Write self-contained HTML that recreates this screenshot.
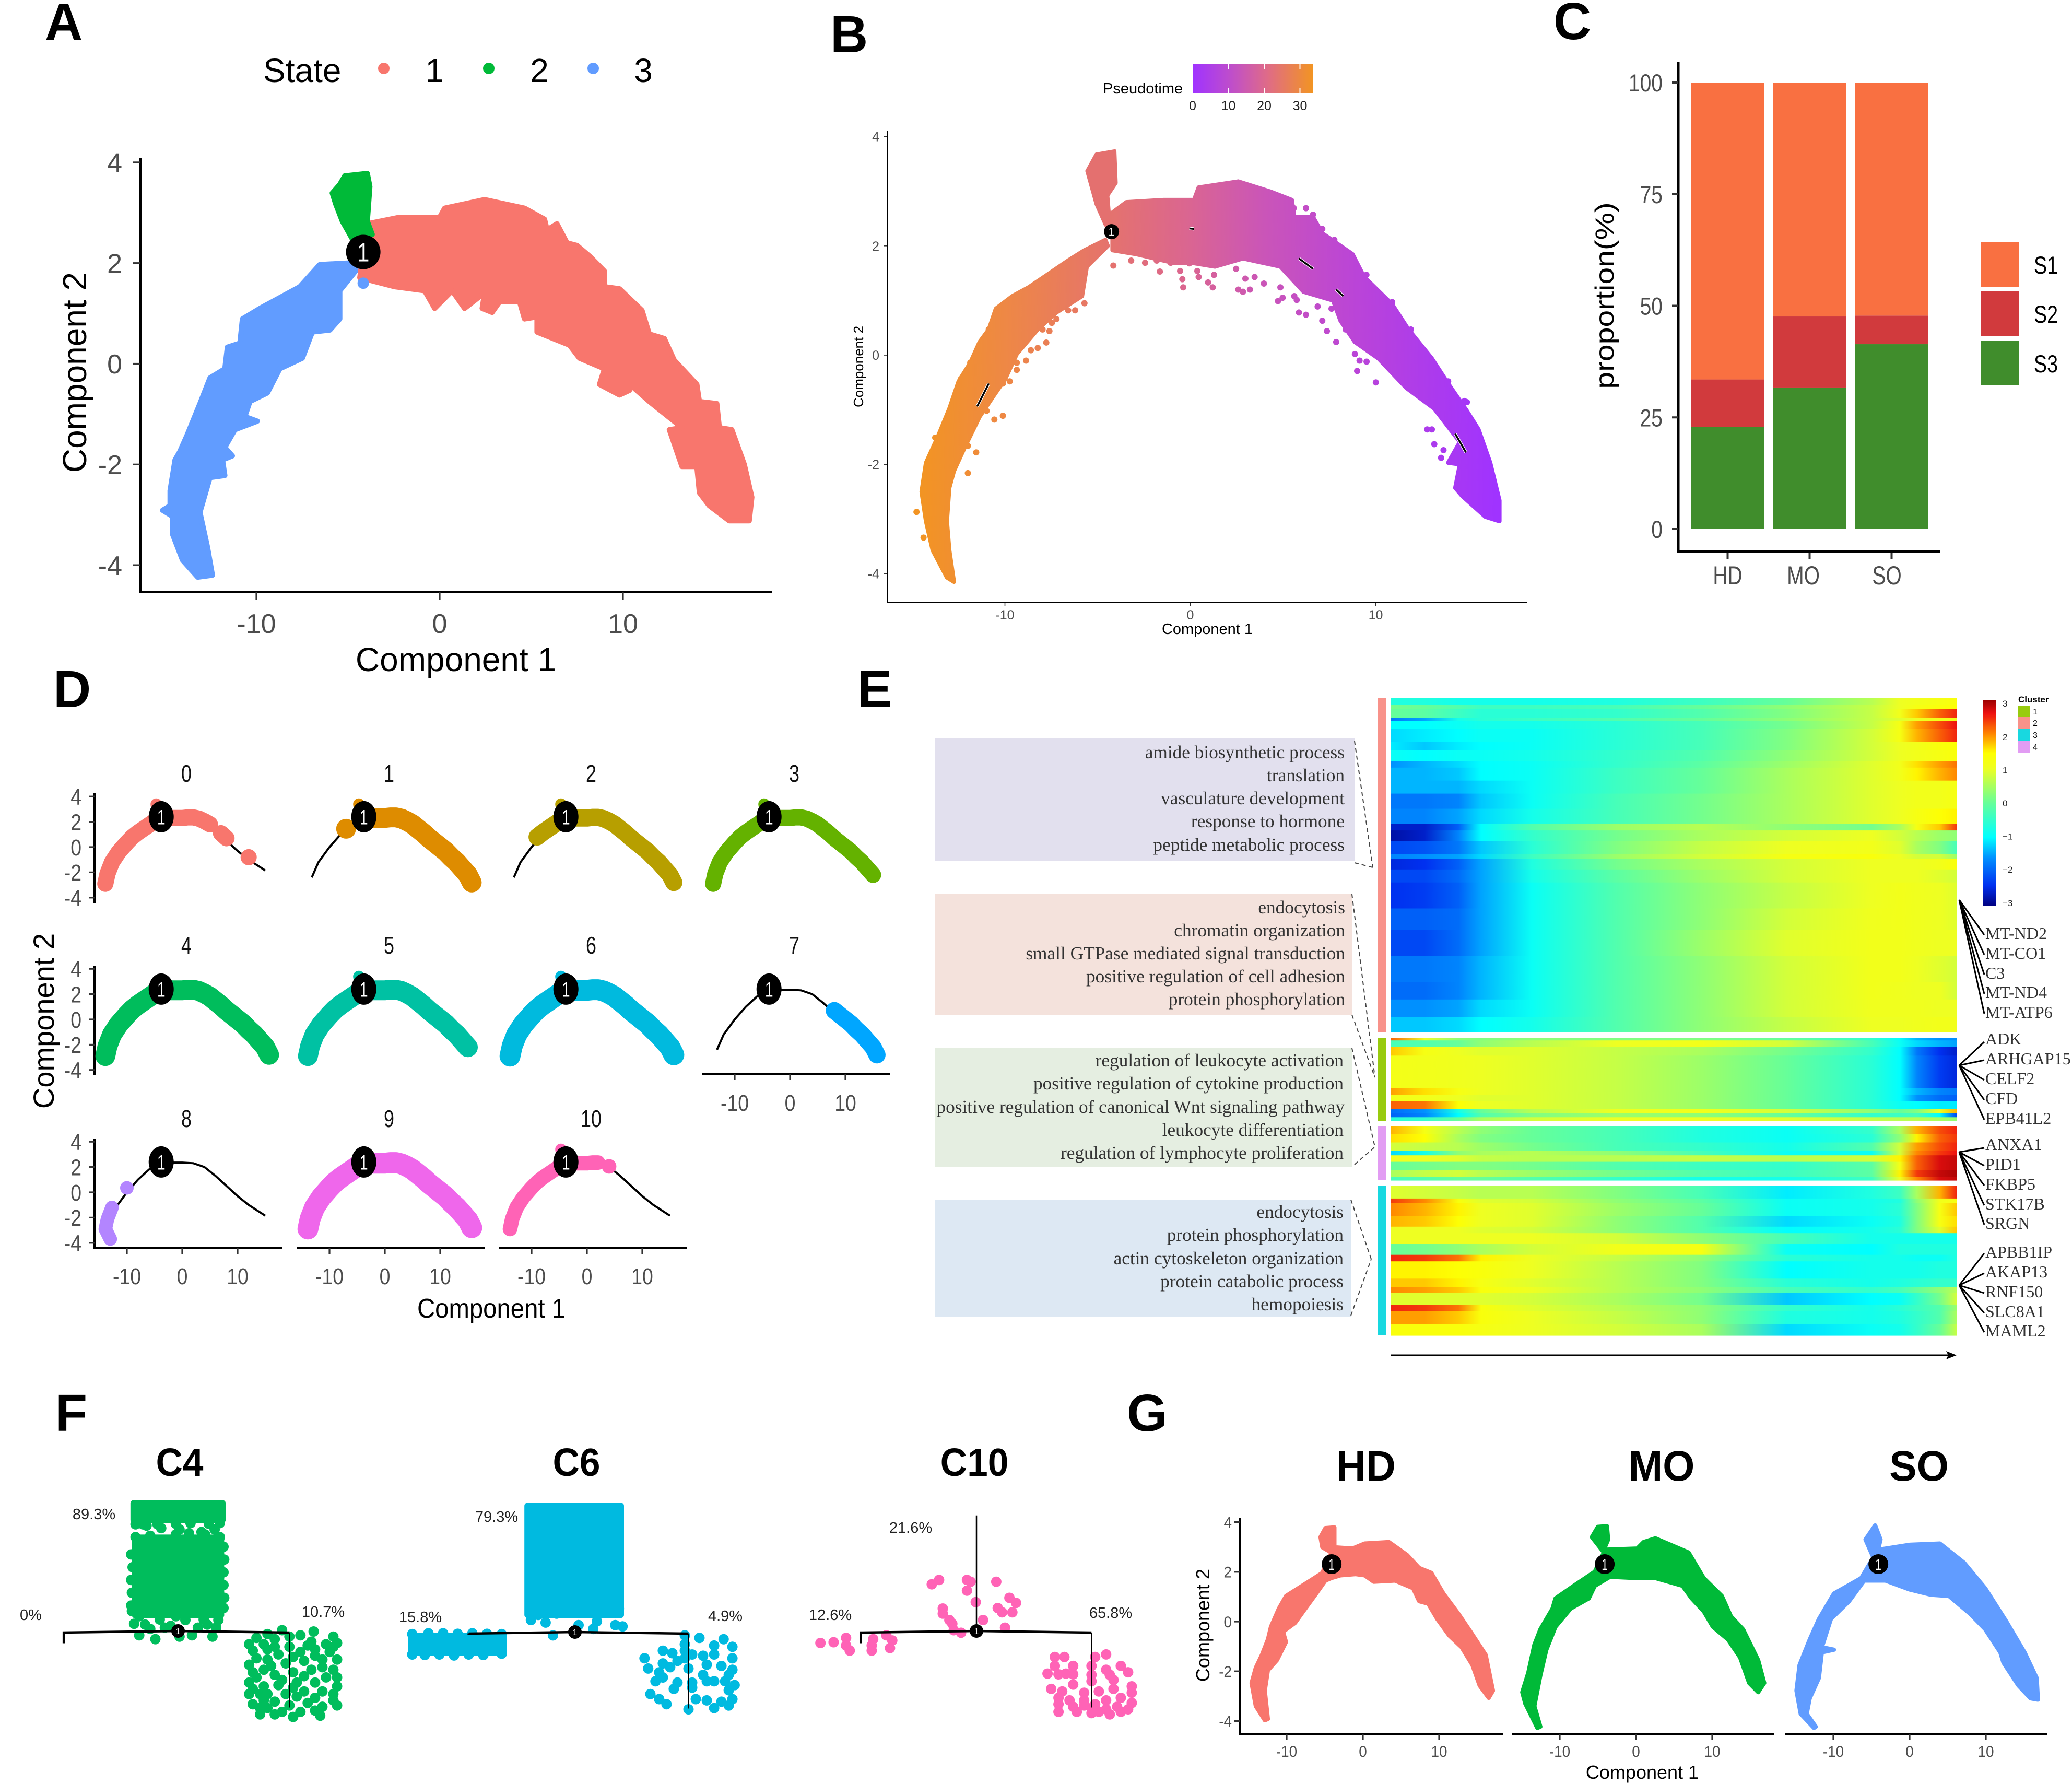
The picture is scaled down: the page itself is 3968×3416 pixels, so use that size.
<!DOCTYPE html>
<html lang="en">
<head>
<meta charset="utf-8">
<title>Trajectory analysis figure</title>
<style>
html,body{margin:0;padding:0;background:#fff;width:3968px;height:3416px;overflow:hidden}
svg{display:block}
text{font-family:"Liberation Sans",sans-serif}
.serif{font-family:"Liberation Serif",serif;fill:#333}
.go{font-size:35.3px;text-anchor:end}
.gene{font-size:32px}
.tag{font-weight:bold;font-size:100px;fill:#000}
.fpct{font-size:29px;text-anchor:middle;fill:#222}
</style>
</head>
<body>
<svg id="fig" xmlns="http://www.w3.org/2000/svg" width="3968" height="3416" viewBox="0 0 3968 3416">
<defs id="defs"></defs>
<rect x="0" y="0" width="3968" height="3416" fill="#fff"/>

<text class="tag" x="86" y="76">A</text>
<text class="tag" x="1590" y="100">B</text>
<text class="tag" x="2975" y="75">C</text>
<text class="tag" x="102" y="1354">D</text>
<text class="tag" x="1642" y="1354">E</text>
<text class="tag" x="106" y="2740">F</text>
<text class="tag" x="2158" y="2740">G</text>

<g id="panelA">
  <text x="504" y="157" font-size="64">State</text>
  <circle cx="735" cy="131" r="11" fill="#F8766D"/>
  <text x="832" y="157" font-size="64" text-anchor="middle">1</text>
  <circle cx="936" cy="131" r="11" fill="#00BA38"/>
  <text x="1033" y="157" font-size="64" text-anchor="middle">2</text>
  <circle cx="1136" cy="131" r="11" fill="#619CFF"/>
  <text x="1232" y="157" font-size="64" text-anchor="middle">3</text>
  <text x="873" y="1285" font-size="64" text-anchor="middle">Component 1</text>
  <text transform="translate(165,713) rotate(-90)" font-size="64" text-anchor="middle">Component 2</text>
</g>

<g id="panelB">
  <text x="2112" y="179" font-size="29">Pseudotime</text>
  <text x="2312" y="1214" font-size="29" text-anchor="middle">Component 1</text>
  <text transform="translate(1653,702) rotate(-90)" font-size="26" text-anchor="middle">Component 2</text>
</g>

<g id="panelC">
  <text transform="translate(3090,566) rotate(-90) scale(1,.85)" font-size="59" text-anchor="middle">proportion(%)</text>
  <rect x="3794" y="464" width="72" height="85" fill="#F97041"/>
  <rect x="3794" y="558" width="72" height="85" fill="#D13A3D"/>
  <rect x="3794" y="652" width="72" height="85" fill="#408D2C"/>
  <text transform="translate(3895,524) scale(.8,1)" font-size="47">S1</text>
  <text transform="translate(3895,618) scale(.8,1)" font-size="47">S2</text>
  <text transform="translate(3895,713) scale(.8,1)" font-size="47">S3</text>
</g>

<g id="panelD">
  <text transform="translate(103,1955) rotate(-90)" font-size="56" text-anchor="middle">Component 2</text>
  <text transform="translate(941,2523) scale(.91,1)" font-size="52" text-anchor="middle">Component 1</text>
</g>

<g id="panelE">
  <rect x="1791" y="1414" width="803" height="234" fill="#E2E0EE"/>
  <rect x="1791" y="1712" width="798" height="231" fill="#F4E2DC"/>
  <rect x="1791" y="2007" width="798" height="228" fill="#E5EEE1"/>
  <rect x="1791" y="2297" width="796" height="225" fill="#DDE8F3"/>

  <text class="serif go" x="2575" y="1452">amide biosynthetic process</text>
  <text class="serif go" x="2575" y="1496">translation</text>
  <text class="serif go" x="2575" y="1540">vasculature development</text>
  <text class="serif go" x="2575" y="1584">response to hormone</text>
  <text class="serif go" x="2575" y="1629">peptide metabolic process</text>

  <text class="serif go" x="2576" y="1749">endocytosis</text>
  <text class="serif go" x="2576" y="1793">chromatin organization</text>
  <text class="serif go" x="2576" y="1837">small GTPase mediated signal transduction</text>
  <text class="serif go" x="2576" y="1881">positive regulation of cell adhesion</text>
  <text class="serif go" x="2576" y="1925">protein phosphorylation</text>

  <text class="serif go" x="2573" y="2042">regulation of leukocyte activation</text>
  <text class="serif go" x="2573" y="2086">positive regulation of cytokine production</text>
  <text class="serif go" x="2575" y="2131">positive regulation of canonical Wnt signaling pathway</text>
  <text class="serif go" x="2573" y="2175">leukocyte differentiation</text>
  <text class="serif go" x="2573" y="2219">regulation of lymphocyte proliferation</text>

  <text class="serif go" x="2573" y="2332">endocytosis</text>
  <text class="serif go" x="2573" y="2376">protein phosphorylation</text>
  <text class="serif go" x="2573" y="2421">actin cytoskeleton organization</text>
  <text class="serif go" x="2573" y="2465">protein catabolic process</text>
  <text class="serif go" x="2573" y="2509">hemopoiesis</text>

  <path d="M2594 1419L2629 1661M2594 1652L2629 1661" fill="none" stroke="#444" stroke-width="2" stroke-dasharray="8 6"/>
  <path d="M2589 1712L2633 2063M2589 1943L2633 2063" fill="none" stroke="#444" stroke-width="2" stroke-dasharray="8 6"/>
  <path d="M2589 2007L2633 2196M2594 2230L2633 2196" fill="none" stroke="#444" stroke-width="2" stroke-dasharray="8 6"/>
  <path d="M2587 2297L2626 2411M2587 2519L2626 2411" fill="none" stroke="#444" stroke-width="2" stroke-dasharray="8 6"/>

  <rect x="2639" y="1337" width="16" height="639" fill="#F8928A"/>
  <rect x="2639" y="1988" width="16" height="158" fill="#98CB0E"/>
  <rect x="2639" y="2157" width="16" height="103" fill="#E29CF3"/>
  <rect x="2639" y="2270" width="16" height="287" fill="#18D8E0"/>

  <path d="M3752 1723L3800 1790M3752 1723L3800 1828M3752 1723L3800 1866M3752 1723L3800 1903M3752 1723L3800 1941" fill="none" stroke="#000" stroke-width="3"/>
  <path d="M3752 2040L3800 1995M3752 2040L3800 2030M3752 2040L3800 2068M3752 2040L3800 2106M3752 2040L3800 2144" fill="none" stroke="#000" stroke-width="3"/>
  <path d="M3752 2206L3800 2198M3752 2206L3800 2232M3752 2206L3800 2270M3752 2206L3800 2308M3752 2206L3800 2345" fill="none" stroke="#000" stroke-width="3"/>
  <path d="M3752 2461L3800 2400M3752 2461L3800 2438M3752 2461L3800 2476M3752 2461L3800 2514M3752 2461L3800 2551" fill="none" stroke="#000" stroke-width="3"/>

  <text class="serif gene" x="3802" y="1798">MT-ND2</text>
  <text class="serif gene" x="3802" y="1836">MT-CO1</text>
  <text class="serif gene" x="3802" y="1874">C3</text>
  <text class="serif gene" x="3802" y="1911">MT-ND4</text>
  <text class="serif gene" x="3802" y="1949">MT-ATP6</text>
  <text class="serif gene" x="3802" y="2000">ADK</text>
  <text class="serif gene" x="3802" y="2038">ARHGAP15</text>
  <text class="serif gene" x="3802" y="2076">CELF2</text>
  <text class="serif gene" x="3802" y="2114">CFD</text>
  <text class="serif gene" x="3802" y="2152">EPB41L2</text>
  <text class="serif gene" x="3802" y="2202">ANXA1</text>
  <text class="serif gene" x="3802" y="2240">PID1</text>
  <text class="serif gene" x="3802" y="2278">FKBP5</text>
  <text class="serif gene" x="3802" y="2316">STK17B</text>
  <text class="serif gene" x="3802" y="2353">SRGN</text>
  <text class="serif gene" x="3802" y="2408">APBB1IP</text>
  <text class="serif gene" x="3802" y="2446">AKAP13</text>
  <text class="serif gene" x="3802" y="2484">RNF150</text>
  <text class="serif gene" x="3802" y="2522">SLC8A1</text>
  <text class="serif gene" x="3802" y="2559">MAML2</text>

  <path d="M2663 2595H3735" stroke="#000" stroke-width="3" fill="none"/>
  <path d="M3747 2595L3727 2587L3731 2595L3727 2603Z" fill="#000"/>

  <text x="3865" y="1345" font-size="17" font-weight="bold">Cluster</text>
  <rect x="3864" y="1351" width="23" height="22" fill="#98CB0E"/>
  <rect x="3864" y="1373" width="23" height="22" fill="#F8928A"/>
  <rect x="3864" y="1395" width="23" height="24" fill="#18D8E0"/>
  <rect x="3864" y="1419" width="23" height="23" fill="#E29CF3"/>
  <text x="3893" y="1368" font-size="16">1</text>
  <text x="3893" y="1390" font-size="16">2</text>
  <text x="3893" y="1413" font-size="16">3</text>
  <text x="3893" y="1436" font-size="16">4</text>
</g>

<g id="panelF">
  <text transform="translate(344,2826) scale(.95,1)" font-size="75" font-weight="bold" text-anchor="middle">C4</text>
  <text transform="translate(1104,2826) scale(.95,1)" font-size="75" font-weight="bold" text-anchor="middle">C6</text>
  <text transform="translate(1866,2826) scale(.95,1)" font-size="75" font-weight="bold" text-anchor="middle">C10</text>
  <text class="fpct" x="180" y="2909">89.3%</text>
  <text class="fpct" x="59" y="3102">0%</text>
  <text class="fpct" x="619" y="3096">10.7%</text>
  <text class="fpct" x="951" y="2914">79.3%</text>
  <text class="fpct" x="805" y="3106">15.8%</text>
  <text class="fpct" x="1389" y="3104">4.9%</text>
  <text class="fpct" x="1744" y="2935">21.6%</text>
  <text class="fpct" x="1590" y="3102">12.6%</text>
  <text class="fpct" x="2127" y="3098">65.8%</text>
</g>

<g id="panelG">
  <text transform="translate(2616,2835) scale(.96,1)" font-size="82" font-weight="bold" text-anchor="middle">HD</text>
  <text transform="translate(3182,2835) scale(.96,1)" font-size="82" font-weight="bold" text-anchor="middle">MO</text>
  <text transform="translate(3675,2835) scale(.96,1)" font-size="82" font-weight="bold" text-anchor="middle">SO</text>
  <text x="3145" y="3406" font-size="36" text-anchor="middle">Component 1</text>
  <text transform="translate(2316,3112) rotate(-90)" font-size="36" text-anchor="middle">Component 2</text>
</g>
</svg>

<script>
/* ---------- shared tick values ---------- */
const compXTicks = [-10, 0, 10];
const compYTicks = [-4, -2, 0, 2, 4];
const nodeComponent = [-4.17, 2.22];

/* ---------- panel A: cell manifold outlines (component 1, component 2) ---------- */
const stateBlue = [[-4.5,2.01],[-6.54,1.97],[-7.63,1.53],[-9.81,1.10],[-10.76,.89],[-10.9,.41],[-11.58,.33],[-11.72,-.10],[-12.53,-.28],[-13.08,-.79],[-13.76,-1.40],[-14.17,-1.74],[-14.44,-1.91],[-14.71,-2.52],[-14.71,-2.82],[-15.12,-2.91],[-14.58,-3.03],[-14.58,-3.38],[-14.03,-3.90],[-13.2,-4.24],[-12.4,-4.2],[-12.67,-3.64],[-13.08,-2.95],[-12.53,-2.26],[-11.72,-2.22],[-11.85,-1.91],[-11.31,-1.83],[-11.72,-1.66],[-11.17,-1.31],[-9.95,-1.14],[-10.63,-1.05],[-10.35,-.75],[-9.4,-.58],[-8.72,-.10],[-7.49,.11],[-6.95,.63],[-5.99,.67],[-5.45,.89],[-5.45,1.45],[-4.5,1.88]];
const stateRed = [[-3.95,2.78],[-2.18,2.91],[0,2.91],[.27,3.09],[2.45,3.26],[4.63,3.09],[5.72,2.87],[5.86,2.66],[6.4,2.78],[6.95,2.4],[7.49,2.35],[8.17,2.14],[8.99,1.84],[8.99,1.53],[9.81,1.49],[11.04,1.06],[11.44,.59],[12.26,.5],[12.8,.07],[14.03,-.41],[14.17,-.75],[15.12,-.79],[15.26,-1.27],[15.94,-1.31],[16.62,-2],[17.03,-2.65],[16.89,-3.12],[15.8,-3.12],[14.71,-2.82],[14.17,-2.56],[14.03,-2.04],[13.22,-2.04],[12.53,-1.31],[13.22,-1.27],[11.44,-.75],[10.22,-.36],[10.35,-.53],[9.81,-.62],[8.72,-.41],[8.99,-.1],[7.63,.11],[7.08,.37],[5.31,.63],[5.31,.93],[4.63,.89],[4.36,1.23],[3.27,1.23],[2.86,1.02],[2.32,1.1],[2.45,1.41],[1.36,1.1],[.68,1.45],[-.27,1.1],[-.82,1.45],[-2.45,1.53],[-4.36,1.71]];
const stateGreen = [[-5.18,3.73],[-3.95,3.78],[-3.81,3.52],[-3.95,2.83],[-3.68,2.57],[-4.77,2.48],[-5.31,2.83],[-5.67,3.17],[-5.86,3.39],[-5.45,3.56]];
const stateStrayBlue = [[-4.17,1.6]];

/* ---------- panel B: pseudotime manifold ---------- */
const pseudoLeft = [[-4.58,2.11],[-5.71,1.92],[-6.6,1.73],[-7.72,1.47],[-8.73,1.24],[-9.6,1.08],[-10.49,.85],[-10.87,.47],[-11.37,.24],[-11.87,-.14],[-12.5,-.48],[-13.0,-.98],[-13.64,-1.51],[-14.26,-1.97],[-14.5,-2.5],[-14.26,-3.04],[-13.9,-3.57],[-13.13,-4.07],[-12.75,-4.15],[-13,-3.57],[-13.13,-3.04],[-13,-2.43],[-12.75,-2.12],[-12.13,-1.66],[-11.37,-1.13],[-10.62,-.75],[-9.99,-.44],[-9.36,.02],[-8.23,.47],[-7.22,.78],[-5.84,1.08],[-5.58,1.62],[-4.45,2.0]];
const pseudoRight = [[-4.2,2.61],[-3.45,2.8],[-1.43,2.84],[.2,2.84],[.45,3.07],[2.59,3.18],[4.35,2.99],[5.48,2.84],[5.61,2.53],[6.62,2.53],[7.12,2.23],[8.75,1.85],[9.38,1.43],[10.89,.93],[11.77,.47],[13.03,-.06],[13.91,-.52],[14.92,-1.02],[15.55,-1.36],[16.18,-1.97],[16.68,-2.66],[16.68,-3.04],[15.92,-2.96],[14.67,-2.58],[14.29,-2.43],[14.54,-2.0],[13.91,-1.97],[14.54,-1.59],[13.16,-.98],[11.65,-.6],[10.14,-.06],[8.88,.24],[8.1,.63],[7.7,1.0],[6.11,1.16],[4.86,1.62],[2.84,1.77],[1.33,1.62],[.07,1.69],[-.93,1.69],[-2.94,1.85],[-4.2,1.92]];
const pseudoStub = [[-5.08,3.68],[-4.07,3.74],[-4.0,3.15],[-4.45,2.92],[-4.33,2.42],[-4.58,2.38],[-5.08,2.76],[-5.58,3.37]];
const pseudoOutliers = [[-4.15,1.64],[-3.19,1.73],[-2.44,1.69],[-1.81,1.73],[-1.64,1.53],[-1.06,1.69],[-.55,1.54],[-.43,1.39],[-.38,1.24],[-.05,1.68],[.38,1.54],[.45,1.43],[.96,1.33],[1.21,1.24],[1.28,1.47],[2.47,1.58],[2.97,1.40],[3.47,1.43],[3.97,1.31],[2.59,1.2],[2.84,1.16],[3.22,1.2],[4.73,.99],[4.98,1.05],[5.61,1.08],[5.74,1.01],[5.86,.78],[6.24,.74],[6.87,.89],[7.12,.63],[7.37,.44],[7.87,.24],[8.88,.02],[9.13,-.1],[9.0,-.29],[9.51,-.12],[10.01,-.5],[11.77,-.56],[13.03,-1.36],[12.78,-1.36],[13.16,-1.63],[13.66,-1.74],[13.53,-1.88],[14.79,-.84],[-5.71,.95],[-6.21,.82],[-6.59,.82],[-7.22,.66],[-7.6,.44],[-7.47,.59],[-7.77,.23],[-8.23,.13],[-8.6,.09],[-8.86,-.1],[-9.36,-.27],[-9.74,-.48],[-10.11,-1.11],[-10.57,-1.18],[-11.55,-1.78],[-12.0,-2.16],[-14.77,-2.87],[-14.39,-3.34],[5.58,2.69],[6.24,2.69],[6.62,2.57],[7.12,2.31],[7.77,2.11],[8.75,1.8],[9.5,1.47],[10.89,.97],[11.9,.47],[13.91,-.48],[14.92,-.86],[-10.37,.84],[-10.87,.47],[-11.87,-.14],[-12.38,-.44],[-13.76,-1.51],[-13.88,-1.74],[4.86,1.24],[5.36,1.47],[6.87,1.16],[7.62,.85],[8.38,.47],[9.38,.17],[10.64,-.21],[12.15,-.6],[-8.73,.4],[-7.97,.47],[-9.36,-.14],[-10.11,-.52],[-10.99,-1.02],[-12,-1.66]];
const pseudoBackboneSlivers = [[[5.86,1.77],[6.62,1.58]],[[7.87,1.2],[8.25,1.08]],[[-11.5,-.94],[-10.87,-.52]],[[14.29,-1.44],[14.87,-1.78]],[[-.05,2.32],[.2,2.31]]];
const pseudotimeTicks = [0, 10, 20, 30];
const pseudoColorByComponent = [[-14.5,'#f29423'],[-10,'#ee8845'],[-4.5,'#e5736c'],[0,'#da6592'],[4,'#ca55b8'],[9,'#ba44d8'],[16.5,'#a033ff']];

/* ---------- panel C: stacked proportions ---------- */
const barGroups = ['HD', 'MO', 'SO'];
const barS3 = [22.9, 31.7, 41.4];
const barS2 = [10.6, 15.9, 6.4];
const barS1 = [66.5, 52.4, 52.2];
const barTicks = [0, 25, 50, 75, 100];

/* ---------- panel D: facets along the trajectory ---------- */
const facetClusters = ['0','1','2','3','4','5','6','7','8','9','10'];
const facetColors = ['#F8766D','#DE8C00','#B79F00','#64B200','#00BD5C','#00C1A3','#00BADE','#00A6FF','#B385FF','#EF67EB','#FF63B6'];
const facetBackbone = [[-13.2,-2.4],[-12,-1.2],[-10,0],[-8,1],[-6,1.8],[-4,2.3],[-2,2.35],[0,2.35],[2,2.3],[4,2.0],[6,1.3],[8,.5],[10,-.3],[12,-1],[15,-1.85]];
const facetStations = [[-13.0,-3.7],[-13.9,-2.9],[-13.5,-2.1],[-12.7,-1.2],[-11.5,-.4],[-10,.35],[-9,.8],[-8,1.15],[-7,1.45],[-6,1.75],[-5,2.05],[-4,2.25],[-3,2.3],[-2,2.3],[-1,2.3],[0,2.3],[1,2.35],[2,2.35],[3,2.25],[4,2.05],[5,1.8],[6,1.45],[7,1.1],[8,.7],[9,.35],[10,0],[11,-.35],[12,-.8],[13,-1.2],[14,-1.7],[15,-2.2],[15.7,-2.8]];
const facetSpans = [[[1,20],[22,23],[27,27]],[[8,8],[11,31]],[[6,31]],[[1,30]],[[1,31]],[[1,30]],[[1,31]],[[23,31]],[[0,3],[5,5]],[[1,31]],[[1,17],[19,19]]];
const facetDensity = [31,38,33,31,38,38,40,33,26,40,28];
const facetHasStub = [true,true,true,true,false,true,true,false,false,false,true];
const facetStub = [[-4.7,3.4],[-4.4,2.6]];

/* ---------- panel E: heatmap (z-scores by pseudotime fraction) ---------- */
const heatFractions = [0,.06,.12,.16,.25,.40,.55,.70,.85,.9,.93,.97,1];
const heatTicks = [3,2,1,0,-1,-2,-3];
const heatColorZ = [-3,-2.4,-1.6,-1,0,1,1.45,2,2.6,3];
const heatColorHex = ['#00007f','#0030f0','#0090ff','#00ffff','#66ff99','#eeff22','#ffff00','#ff8800','#ee1111','#990000'];
const cluster2Genes = [15,10,20,7,18,30,20,25,15,30,30,35,35,15,25,30,10,25,30,60,50,60,60,40,40,35];
const cluster2Values = [
[-.7,-.7,-.8,-.8,-.8,-.7,-.4,0,.6,1,1.1,1.2,1.3],
[.1,0,-.2,-.4,-.4,-.3,0,.3,.7,1,1.2,1.3,1.4],
[0,-.1,-.4,-.6,-.6,-.5,-.2,.2,.7,1.1,1.7,2.2,2.5],
[-1.8,-1.5,-.8,-.6,-.4,-.2,0,.3,.7,.9,1,1.1,1.1],
[-1,-1,-.9,-.8,-.8,-.6,-.3,.1,.7,1.2,1.9,2.3,2.6],
[-1.2,-1.1,-1,-.9,-.9,-.6,-.3,.2,.8,1.2,1.8,2.2,2.5],
[-1.1,-1.3,-1.1,-1,-.9,-.6,-.3,.2,.8,1,1.1,1.3,1.4],
[-.9,-1,-.9,-.9,-.8,-.5,-.2,.3,.8,1,1.1,1.2,1.3],
[-1.6,-1.4,-1.2,-1,-.9,-.5,-.1,.4,.9,1.1,1.6,1.9,2.1],
[-1.4,-1.4,-1.3,-1,-.9,-.4,0,.5,.9,1.1,1.5,1.8,2],
[-1.4,-1.4,-1.4,-1.2,-.9,-.4,0,.5,.9,1,1.1,1.1,1.2],
[-1.8,-1.8,-1.7,-1.3,-.9,-.3,.1,.5,.9,1,1.1,1.1,1.2],
[-1.7,-1.7,-1.5,-1.2,-.8,-.3,.1,.5,.9,1,1.2,1.4,1.5],
[-2.6,-2.6,-2,-1,-.2,.4,.6,.3,.1,.5,1.2,1.7,2.4],
[-2.8,-2.6,-1.7,-1,-.5,.1,.5,.8,1.0,.8,.6,.4,.3],
[-2.2,-2.1,-1.8,-1.3,-.6,.2,.7,1,1.1,.9,.5,.2,-.3],
[-1.7,-1.6,-1.5,-1.2,-.4,.4,.8,1.2,1.3,1,.8,.8,.4],
[-2.5,-2.4,-2,-1.5,-.7,.1,.5,.8,1,1,1,1.1,1.3],
[-2.2,-2.2,-1.9,-1.5,-.8,-.1,.4,.8,1,1,1,.9,.8],
[-2.4,-2.3,-2,-1.5,-.9,-.2,.3,.7,1,1.1,1.05,1,.9],
[-2,-2,-1.9,-1.5,-.9,-.2,.3,.8,1.05,1.1,1.05,1,.9],
[-2.2,-2.2,-1.9,-1.5,-.9,-.2,.4,.9,1.1,1.1,1.05,1,1],
[-1.8,-1.8,-1.7,-1.4,-.9,-.2,.3,.8,1.1,1.1,1,.9,.8],
[-1.9,-1.9,-1.7,-1.4,-.9,-.2,.3,.8,1.1,1.05,1,1,.8],
[-1.6,-1.6,-1.5,-1.2,-.9,-.2,.3,.8,1.05,1.05,1.05,1,1],
[-1.3,-1.3,-1.2,-1.0,-.8,-.2,.3,.7,1,1,1.05,1.1,1.1]];
const cluster1Genes = [5,15,20,75,15,15,18,10,9,8];
const cluster1Values = [
[2.2,1,.3,.2,.3,.2,.2,0,-.5,-1,-1.4,-1.6,-1.6],
[-.3,-.2,0,.3,.6,1,1.1,.8,-.3,-.9,-1.2,-1.4,-1.5],
[1.7,1.2,1,.9,.9,.7,.5,.1,-.5,-1,-1.8,-2.4,-2.6],
[1.15,1.1,1.05,1,.9,.7,.4,0,-.6,-1,-1.7,-2.3,-2.5],
[1.9,1.6,1.2,1,.9,.7,.4,0,-.6,-1,-1.4,-1.7,-1.8],
[1.1,1.1,1,.9,.9,.7,.4,0,-.6,-1,-1.6,-1.9,-2],
[2.2,2.1,1.4,1,.9,.7,.4,0,-.6,-.9,-1,-1.1,-1.1],
[-1.9,-1.6,-.8,0,.6,1,1.1,.8,.3,0,.2,1,1.8],
[-2,-1.7,-1,-.2,.2,.4,.3,0,-.5,-.4,-.3,-1,-2.2],
[-.6,-.5,0,.5,.8,1,1,.9,.7,.6,.6,.5,.3]];
const cluster4Genes = [17,20,20,10,15,20,15,8];
const cluster4Values = [
[1.8,1.2,.6,.3,0,-.3,-.7,-.9,-.5,.5,1.8,2.3,2.5],
[1.6,1.4,.5,.2,0,-.3,-.7,-.9,-.6,.3,1.5,2.2,2.4],
[.8,.7,.6,.4,.1,-.3,-.5,-.8,-.2,.8,1.9,2.3,2.5],
[-1.2,-.8,.3,.5,.6,.3,-.3,-.9,-.9,.8,2,2.4,2.6],
[1,1,.9,.7,.6,.6,.7,.6,.8,1.5,2.2,2.7,2.8],
[0,.1,.2,.2,.1,-.2,-.4,-.5,-.1,1.2,2.2,2.7,2.8],
[.5,.7,.8,.6,.4,.1,-.2,-.4,-.1,1.5,2.4,2.8,2.9],
[-.3,-.2,0,0,-.2,-.5,-.8,-.8,-.4,1,2,2.7,2.8]];
const cluster3Genes = [30,10,30,25,15,25,25,15,40,20,13,27,15,30,26];
const cluster3Values = [
[.9,.8,.7,.6,.6,.2,-.3,-1.1,-.7,-.4,.5,1.8,2.5],
[2.4,2,1.3,.9,.8,.3,-.1,-.9,-.8,-.7,.3,1.1,1.2],
[2,1.8,1.5,1,.9,.4,0,-.9,-.8,-.6,.2,1.2,1.7],
[1.8,1.7,1.4,1,.9,.3,-.2,-1.2,-.9,-.7,.2,1.2,1.6],
[1,1,1,.9,.8,.3,-.2,-1,-.8,-.6,.2,.9,1.7],
[1,1,1,1,1,.8,.3,-.3,-.8,-.8,-.8,-.8,-.8],
[.0,.1,.3,.5,.8,1.1,1.2,-.9,-1,-.7,-.7,-.7,-.7],
[2.5,2.4,2.1,1.5,1,.7,.3,-.6,-.8,-.8,-.9,-.9,-.7],
[1.5,1.5,1.4,1.3,1,.6,.2,-1,-.8,-.8,-.8,-.7,-.7],
[1.7,1.7,1.5,1.2,.9,.6,.2,-.6,-.8,-.7,-.6,-.5,-.5],
[2,1.9,1.7,1.3,1,.6,.3,-.3,-.5,-.3,0,.3,.6],
[.9,.9,.9,.9,.8,.5,.1,-1.3,-1,-.9,-.5,.1,.8],
[2.5,2.4,2.1,1.3,.9,.6,.3,-.5,-.8,-.6,-.4,-.2,.4],
[1.9,1.9,1.7,1.3,1,.7,.3,-.7,-.8,-.7,-.5,-.2,.5],
[1.3,1.3,1.3,1.2,1,.8,.5,-1.2,-.9,-.8,-.5,0,.7]];

/* ---------- panel F: cells on branches (branch offset, depth, arbitrary units) ---------- */
const c4Blocks = [[-65,65,513,423],[-63,63,378,50]];
const c4Cells = [[142,3],[107,-27],[97,-52],[102,-77],[97,-132],[102,-162],[97,-202],[112,-247],[102,-287],[112,-327],[132,-32],[152,-22],[167,-17],[185,-2],[212,-22],[202,-52],[217,-47],[182,-42],[152,-62],[167,-82],[137,-92],[122,-72],[187,-72],[207,-82],[197,-112],[172,-117],[147,-127],[127,-137],[107,-107],[212,-152],[182,-152],[157,-162],[132,-172],[107,-182],[202,-182],[187,-202],[162,-202],[137,-212],[117,-217],[212,-247],[197,-237],[172,-237],[147,-247],[132,-277],[152,-292],[177,-282],[197,-297],[212,-272],[167,-317],[142,-317],[194,-332],[122,-302],[97,-247],[157,-222],[217,-217],[122,-12],[117,-52],[132,-62],[177,-57],[212,-62],[122,-112],[157,-102],[187,-97],[217,-112],[117,-152],[197,-142],[142,-192],[172,-177],[217,-182],[122,-247],[102,-227],[162,-257],[187,-262],[117,-272],[217,-292],[187,-312],[157,-337],[132,-327],[112,-302],[-48,418],[-23,403],[2,398],[32,388],[50,398],[-58,368],[-38,373],[-3,378],[15,383],[37,378],[57,368],[-58,418],[-43,413],[-28,418],[-3,420],[17,423],[42,420],[57,423],[-53,-17],[-31,-32],[2,-22],[19,-17],[47,-22],[-60,28],[-38,8],[-18,13],[27,13],[52,13],[55,43],[-63,78],[-53,58],[-3,58],[10,43],[35,45],[-25,45],[-45,25],[40,25],[-10,20],[-64,300],[-62,250],[-64,200],[-63,150],[-64,100],[62,330],[63,280],[62,230],[62,180],[63,130],[62,90]];
const c6Blocks = [[-69,67,507,55],[-228,-93,-3,-93]];
const c6Cells = [[150,-13],[170,-23],[203,-28],[150,-48],[190,-53],[215,-58],[120,-73],[133,-83],[150,-73],[160,-88],[175,-93],[190,-88],[95,-103],[120,-123],[140,-113],[150,-103],[180,-128],[215,-103],[200,-133],[215,-148],[100,-143],[115,-158],[130,-138],[155,-143],[175,-168],[190,-193],[210,-168],[110,-193],[140,-198],[160,-198],[180,-193],[205,-193],[218,-208],[135,-223],[160,-218],[210,-228],[103,-243],[115,-263],[165,-263],[180,-268],[200,-273],[215,-263],[125,-283],[190,-298],[155,-303],[210,-288],[120,-178],[-60,47],[-40,37],[-25,72],[5,27],[30,42],[55,27],[65,22],[-60,92],[-5,92],[35,82],[60,92],[-30,-13],[25,12],[-50,67],[-222,-8],[-200,-5],[-180,-5],[-160,-7],[-140,-5],[-120,-7],[-100,-8],[-222,-88],[-205,-90],[-185,-88],[-165,-92],[-145,-88],[-125,-90],[-100,-85]];
const c10Blocks = [];
const c10Cells = [[-51,200],[-61,183],[-13,200],[-8,193],[27,193],[-13,158],[45,130],[54,110],[-1,113],[-46,88],[29,90],[35,73],[49,73],[-46,68],[9,43],[-37,43],[-33,28],[39,13],[-31,3],[-21,-7],[-213,-47],[-195,-44],[-178,-27],[-178,-57],[-173,-77],[-141,-32],[-123,-17],[-115,-37],[-143,-57],[-143,-77],[-118,-67],[107,-102],[120,-102],[162,-102],[177,-92],[107,-137],[132,-137],[157,-137],[177,-152],[197,-137],[97,-167],[112,-170],[122,-167],[132,-170],[157,-172],[182,-172],[207,-162],[132,-210],[157,-197],[187,-192],[212,-217],[102,-227],[117,-237],[147,-242],[167,-237],[187,-227],[212,-242],[112,-262],[127,-272],[147,-272],[162,-287],[177,-272],[197,-262],[212,-282],[112,-287],[132,-297],[157,-302],[177,-307],[192,-297],[207,-307],[112,-317],[137,-317],[157,-322],[182,-327],[197,-317],[147,-292],[167,-317]];
const c4Branch = {left:-156, leftDrop:-48, right:152, rightDrop:-300, up:430};
const c6Branch = {left:-145, leftDrop:-5, right:155, rightDrop:-300, up:430};
const c10Branch = {left:-158, leftDrop:-48, right:157, rightDrop:-300, up:453};

/* ---------- panel G: per-group manifold outlines ---------- */
const groupHD = [[-12.86,-3.97],[-14.05,-3.40],[-14.6,-2.47],[-14.05,-1.86],[-13.25,-1.34],[-12.46,-.72],[-12.06,-.21],[-11.03,.52],[-10.08,1.03],[-6.9,1.65],[-5.32,1.96],[-4.13,2.78],[-5.32,2.99],[-5.56,3.40],[-4.92,3.76],[-3.73,3.79],[-3.73,2.99],[-1.35,2.94],[.24,3.14],[3.41,3.2],[5.79,2.68],[7.38,2.16],[8.97,1.96],[10.56,1.13],[12.54,.31],[14.13,-.41],[16.11,-1.34],[17.06,-2.78],[16.51,-3.07],[15.32,-2.58],[14.37,-1.75],[12.94,-1.03],[11.35,-.57],[9.76,.1],[8.57,.72],[7.38,.82],[6.59,1.34],[4.21,1.65],[1.43,1.6],[.24,1.86],[-.95,1.91],[-2.94,1.86],[-4.13,1.75],[-4.92,1.65],[-6.11,1.13],[-7.7,.46],[-8.89,-.05],[-10.48,-.41],[-10.08,-.82],[-11.27,-1.55],[-12.46,-1.96],[-12.86,-2.78],[-12.46,-3.92]];
const groupMO = [[-12.94,-4.28],[-14.52,-3.3],[-14.92,-2.84],[-14.13,-2.06],[-13.33,-.93],[-12.54,-.31],[-10.95,.52],[-10.56,.93],[-8.17,1.44],[-5.4,2.01],[-4.21,2.78],[-5.79,3.40],[-5,3.81],[-3.81,3.84],[-3.65,3.3],[-4.21,2.89],[.16,2.94],[1.0,3.2],[2.54,3.35],[6.9,2.78],[8.89,1.75],[11.27,1.03],[12.46,.21],[14.05,-.31],[16.03,-1.55],[16.83,-2.47],[16.03,-2.84],[14.84,-2.47],[13.65,-1.44],[12.06,-.72],[10.08,-.21],[8.89,.41],[7.3,.93],[6.11,1.44],[2.54,1.75],[.16,1.75],[-3.41,1.8],[-5.4,1.44],[-6.19,.93],[-8.57,.52],[-10.56,-.21],[-11.75,-1.13],[-12.54,-2.16],[-13.33,-3.4],[-12.54,-4.23]];
const groupSO = [[-12.54,-4.28],[-14.29,-3.71],[-14.84,-2.78],[-14.44,-1.75],[-13.1,-.72],[-11.9,.1],[-9.92,1.13],[-6.35,1.75],[-4.76,2.58],[-5.79,3.3],[-4.52,3.87],[-3.81,3.3],[-4.13,2.89],[0,3.09],[3.97,3.14],[7.14,2.37],[9.92,1.34],[12.7,0],[15.08,-1.24],[16.67,-2.27],[16.83,-3.14],[15.87,-3.09],[14.29,-2.58],[12.3,-1.65],[11.9,-1.24],[9.92,-.31],[7.94,.31],[5.16,1.03],[2.78,1.08],[0,1.29],[-3.17,1.65],[-5.95,1.65],[-7.94,.82],[-10.32,.1],[-11.51,-1.03],[-9.92,-1.13],[-11.51,-1.24],[-11.9,-2.27],[-13.1,-3.09],[-13.49,-3.71],[-12.3,-4.23]];

/* ---------- helpers ---------- */
const NS = 'http://www.w3.org/2000/svg';
const defs = document.getElementById('defs');
function mk(parent, tag, props) {
  const node = document.createElementNS(NS, tag);
  for (const k in props) node.setAttribute(k, props[k]);
  parent.appendChild(node);
  return node;
}
function linear(origin, pxPerUnit) { return v => origin + v * pxPerUnit; }
function pointsOf(pairs, fx, fy) { return pairs.map(p => fx(p[0]).toFixed(1) + ',' + fy(p[1]).toFixed(1)).join(' '); }
function outline(g, pairs, fx, fy, fill, sw, name) {
  const el = mk(g, 'polygon', {points: pointsOf(pairs, fx, fy), fill: fill, stroke: fill, 'stroke-width': sw, 'stroke-linejoin': 'round'});
  
  
  return el;
}
function label(g, x, y, str, size, anchor, sx, fill, name) {
  const el = mk(g, 'text', {transform: 'translate(' + x + ',' + y + ') scale(' + sx + ',1)', 'font-size': size, 'text-anchor': anchor, fill: fill});
  el.textContent = str;
  
  
  return el;
}
function line(g, x1, y1, x2, y2, sw, stroke, name) {
  const el = mk(g, 'line', {x1: x1, y1: y1, x2: x2, y2: y2, stroke: stroke, 'stroke-width': sw});
  
  
  return el;
}
function node(g, cx, cy, rx, ry, size, sx) {
  const el = mk(g, 'ellipse', {cx: cx, cy: cy, rx: rx, ry: ry, fill: '#000'});
  
  
  label(g, cx, cy + size * .36, '1', size, 'middle', sx, '#fff', 'branch-node-label');
}
function axes(g, o) {
  if (o.showY) {
    line(g, o.left, o.top, o.left, o.bottom + o.sw / 2, o.sw, '#000', 'y-axis-line');
    o.yTicks.forEach(t => {
      line(g, o.left - o.tick, o.fy(t), o.left, o.fy(t), o.sw * .8, '#333', 'y-tick');
      label(g, o.yLabelRight, o.fy(t) + o.fs * .36, String(t), o.fs, 'end', o.sx, '#4d4d4d', 'y-tick-label');
    });
  }
  if (o.showX) {
    line(g, o.left, o.bottom, o.right, o.bottom, o.sw, '#000', 'x-axis-line');
    o.xTicks.forEach(t => {
      line(g, o.fx(t), o.bottom, o.fx(t), o.bottom + o.tick, o.sw * .8, '#333', 'x-tick');
      label(g, o.fx(t), o.xLabelBase, String(t), o.fs, 'middle', o.sx, '#4d4d4d', 'x-tick-label');
    });
  }
}

/* ---------- panel A ---------- */
(function () {
  const g = document.getElementById('panelA');
  const fx = linear(842, 35.1), fy = linear(696.5, -96.4);
  axes(g, {showX: true, showY: true, fx, fy, left: 269, right: 1478, top: 303, bottom: 1134, xTicks: compXTicks, yTicks: compYTicks, tick: 15, sw: 4, fs: 52, sx: 1, yLabelRight: 234, xLabelBase: 1212});
  outline(g, stateBlue, fx, fy, '#619CFF', 10, 'state-3-cells');
  outline(g, stateRed, fx, fy, '#F8766D', 10, 'state-1-cells');
  outline(g, stateGreen, fx, fy, '#00BA38', 10, 'state-2-cells');
  stateStrayBlue.forEach(p => {
    const el = mk(g, 'circle', {cx: fx(p[0]), cy: fy(p[1]), r: 11, fill: '#619CFF'});
    
    
  });
  node(g, fx(nodeComponent[0]), fy(nodeComponent[1]), 33, 33, 50, .85);
})();

/* ---------- panel B ---------- */
(function () {
  const g = document.getElementById('panelB');
  const fx = linear(2279.5, 35.5), fy = linear(680, -104.6);
  const grad = mk(defs, 'linearGradient', {id: 'pseudoGrad', gradientUnits: 'userSpaceOnUse', x1: fx(-14.5), x2: fx(16.5), y1: 0, y2: 0});
  pseudoColorByComponent.forEach(s => mk(grad, 'stop', {offset: (s[0] + 14.5) / 31, 'stop-color': s[1]}));
  const barGrad = mk(defs, 'linearGradient', {id: 'pseudoBarGrad', x1: 0, x2: 1, y1: 0, y2: 0});
  mk(barGrad, 'stop', {offset: 0, 'stop-color': '#a033ff'});
  mk(barGrad, 'stop', {offset: .33, 'stop-color': '#c04fc8'});
  mk(barGrad, 'stop', {offset: .62, 'stop-color': '#df6b88'});
  mk(barGrad, 'stop', {offset: 1, 'stop-color': '#f29423'});

  const bar = mk(g, 'rect', {x: 2285, y: 122, width: 229, height: 57, fill: 'url(#pseudoBarGrad)'});
  
  
  const fp = linear(2284, 6.85);
  pseudotimeTicks.forEach(t => {
    if (t > 0) {
      line(g, fp(t), 122, fp(t), 133, 2, '#fff', 'pseudotime-colorbar-tick');
      line(g, fp(t), 168, fp(t), 179, 2, '#fff', 'pseudotime-colorbar-tick');
    }
    label(g, fp(t), 211, String(t), 25, 'middle', 1, '#222', 'pseudotime-tick-label');
  });

  axes(g, {showX: true, showY: true, fx, fy, left: 1699, right: 2925, top: 250, bottom: 1154, xTicks: compXTicks, yTicks: compYTicks, tick: 6, sw: 2, fs: 25, sx: 1, yLabelRight: 1684, xLabelBase: 1186});
  outline(g, pseudoStub, fx, fy, '#e4706f', 6, 'pseudotime-branch-cells');
  outline(g, pseudoLeft, fx, fy, 'url(#pseudoGrad)', 8, 'pseudotime-late-cells');
  outline(g, pseudoRight, fx, fy, 'url(#pseudoGrad)', 8, 'pseudotime-early-cells');
  pseudoOutliers.forEach(p => {
    const el = mk(g, 'circle', {cx: fx(p[0]), cy: fy(p[1]), r: 6, fill: 'url(#pseudoGrad)'});
    
    
  });
  pseudoBackboneSlivers.forEach(s => {
    line(g, fx(s[0][0]), fy(s[0][1]), fx(s[1][0]), fy(s[1][1]), 6, '#fff', 'trajectory-gap');
    line(g, fx(s[0][0]), fy(s[0][1]), fx(s[1][0]), fy(s[1][1]), 3.5, '#000', 'trajectory-sliver');
  });
  node(g, fx(-4.25), fy(2.26), 14.5, 14.5, 22, 1);
})();

/* ---------- panel C ---------- */
(function () {
  const g = document.getElementById('panelC');
  const fy = linear(1013, -8.55);
  const fxBar = i => 3308.5 + 157 * i;
  const barW = 141;
  barGroups.forEach((name, i) => {
    const s3 = barS3[i], s2 = barS2[i], s1 = barS1[i];
    const segs = [[0, s3, '#408D2C', 's3'], [s3, s3 + s2, '#D13A3D', 's2'], [s3 + s2, s3 + s2 + s1, '#F97041', 's1']];
    segs.forEach(seg => {
      const el = mk(g, 'rect', {x: fxBar(i) - barW / 2, y: fy(seg[1]), width: barW, height: fy(seg[0]) - fy(seg[1]), fill: seg[2]});
      
      
    });
    line(g, fxBar(i), 1056, fxBar(i), 1070, 4, '#333', 'x-tick');
    label(g, fxBar(i) + [0, -12, -9][i], 1119, name, 50, 'middle', .78, '#4d4d4d', 'x-tick-label');
  });
  line(g, 3214, 119, 3214, 1058, 5, '#000', 'y-axis-line');
  line(g, 3212, 1056, 3715, 1056, 5, '#000', 'x-axis-line');
  barTicks.forEach(t => {
    line(g, 3202, fy(t), 3214, fy(t), 4, '#333', 'y-tick');
    label(g, 3184, fy(t) + 17, String(t), 47, 'end', .83, '#4d4d4d', 'y-tick-label');
  });
})();

/* ---------- panel D ---------- */
(function () {
  const g = document.getElementById('panelD');
  const colOrigin = [349, 737, 1124, 1513];
  const rowOrigin = [1622, 1952, 2283];
  const titleBase = [1497, 1826, 2158];
  const dTicksX = compXTicks, dTicksY = compYTicks;
  facetClusters.forEach((name, i) => {
    const col = i % 4, row = Math.floor(i / 4);
    const fx = linear(colOrigin[col], 10.6), fy = linear(rowOrigin[row], -24.2);
    const color = facetColors[i];
    const fg = mk(g, 'g', {});
    
    
    label(fg, colOrigin[col] + 8, titleBase[row], name, 46, 'middle', .78, '#111', 'facet-title');
    const baseline = (i === 7) ? 2057 : 2390;
    const labelBase = (i === 7) ? 2127 : 2459;
    axes(fg, {showX: i >= 7, showY: col === 0, fx, fy, left: colOrigin[col] - 168, right: colOrigin[col] + 192, top: rowOrigin[row] - 103, bottom: row === 2 ? baseline : rowOrigin[row] + 105, xTicks: dTicksX, yTicks: dTicksY, tick: 11, sw: 4, fs: 44, sx: .85, yLabelRight: 156, xLabelBase: labelBase});
    const back = mk(fg, 'polyline', {points: pointsOf(facetBackbone, fx, fy), fill: 'none', stroke: '#000', 'stroke-width': 4});
    
    
    facetSpans[i].forEach(span => {
      const pts = facetStations.slice(span[0], span[1] + 1);
      const drawn = pts.length === 1 ? [pts[0], pts[0]] : pts;
      const band = mk(fg, 'polyline', {points: pointsOf(drawn, fx, fy), fill: 'none', stroke: color, 'stroke-width': facetDensity[i], 'stroke-linejoin': 'round', 'stroke-linecap': 'round'});
      
      
    });
    if (facetHasStub[i]) {
      const stub = mk(fg, 'polyline', {points: pointsOf(facetStub, fx, fy), fill: 'none', stroke: color, 'stroke-width': 22, 'stroke-linecap': 'round'});
      
      
    }
    node(fg, fx(-3.8), fy(2.4), 24, 30, 40, .7);
  });
})();

/* ---------- panel E ---------- */
(function () {
  const g = document.getElementById('panelE');
  const fx = linear(2663, 1084);
  function hexToRgb(h) { return [parseInt(h.substr(1, 2), 16), parseInt(h.substr(3, 2), 16), parseInt(h.substr(5, 2), 16)]; }
  function heatColor(z) {
    const clamped = Math.max(heatColorZ[0], Math.min(heatColorZ[heatColorZ.length - 1], z));
    for (let i = 0; i < heatColorZ.length - 1; i++) {
      if (clamped <= heatColorZ[i + 1]) {
        const t = (clamped - heatColorZ[i]) / (heatColorZ[i + 1] - heatColorZ[i]);
        const a = hexToRgb(heatColorHex[i]), b = hexToRgb(heatColorHex[i + 1]);
        return 'rgb(' + a.map((c, k) => Math.round(c + (b[k] - c) * t)).join(',') + ')';
      }
    }
    return heatColorHex[heatColorHex.length - 1];
  }
  let gradId = 0;
  function drawCluster(top, bottom, genes, values, name) {
    const total = genes.reduce((a, b) => a + b, 0);
    const unit = (bottom - top) / total;
    let y = top;
    values.forEach((row, r) => {
      const id = 'heatRow' + (gradId++);
      const grad = mk(defs, 'linearGradient', {id: id, x1: 0, x2: 1, y1: 0, y2: 0});
      row.forEach((z, c) => mk(grad, 'stop', {offset: heatFractions[c], 'stop-color': heatColor(z)}));
      const h = genes[r] * unit;
      const el = mk(g, 'rect', {x: fx(0), y: y.toFixed(1), width: fx(1) - fx(0), height: (h + .6).toFixed(1), fill: 'url(#' + id + ')'});
      
      
      y += h;
    });
  }
  drawCluster(1337, 1976, cluster2Genes, cluster2Values, 'heatmap-cluster-2');
  drawCluster(1988, 2146, cluster1Genes, cluster1Values, 'heatmap-cluster-1');
  drawCluster(2157, 2260, cluster4Genes, cluster4Values, 'heatmap-cluster-4');
  drawCluster(2270, 2557, cluster3Genes, cluster3Values, 'heatmap-cluster-3');

  const fz = linear(1538, -63.6);
  const barGrad = mk(defs, 'linearGradient', {id: 'heatBarGrad', x1: 0, x2: 0, y1: 1, y2: 0});
  heatColorZ.forEach((z, i) => mk(barGrad, 'stop', {offset: (z + 3) / 6, 'stop-color': heatColorHex[i]}));
  const bar = mk(g, 'rect', {x: 3798, y: 1340, width: 25, height: 395, fill: 'url(#heatBarGrad)'});
  
  
  heatTicks.forEach(t => {
    label(g, 3835, fz(t) + 6, String(t).replace('-', '\u2212'), 17, 'start', 1, '#222', 'heat-colorbar-tick-label');
  });
})();

/* ---------- panel F ---------- */
(function () {
  const g = document.getElementById('panelF');
  function drawBranch(nodeX, nodeY, blocks, cells, br, color, name) {
    const fx = linear(nodeX, 1.403), fy = linear(nodeY, -.4885);
    const fg = mk(g, 'g', {});
    
    
    blocks.forEach(b => {
      const el = mk(fg, 'rect', {x: fx(b[0]), y: fy(b[2]), width: fx(b[1]) - fx(b[0]), height: fy(b[3]) - fy(b[2]), fill: color, rx: 6});
      
      
    });
    cells.forEach(p => {
      const el = mk(fg, 'circle', {cx: fx(p[0]).toFixed(1), cy: fy(p[1]).toFixed(1), r: 10, fill: color});
      
      
    });
    const tree = mk(fg, 'path', {d: 'M' + fx(br.left) + ' ' + fy(br.leftDrop) + 'V' + (nodeY + 3) + 'L' + nodeX + ' ' + nodeY + 'L' + fx(br.right) + ' ' + (nodeY + 3), fill: 'none', stroke: '#000', 'stroke-width': 4.5});
    
    
    line(fg, fx(br.right), nodeY + 3, fx(br.right), fy(br.rightDrop), 2.5, '#000', 'branch-right-drop');
    if (blocks.length === 0) {
      line(fg, nodeX, nodeY, nodeX, fy(br.up), 2.5, '#000', 'branch-stem');
    }
    node(fg, nodeX, nodeY, 13, 13, 16, 1);
  }
  drawBranch(341, 3123, c4Blocks, c4Cells, c4Branch, '#00BD5C', 'branch-plot-c4');
  drawBranch(1101, 3125, c6Blocks, c6Cells, c6Branch, '#00BAE0', 'branch-plot-c6');
  drawBranch(1870, 3123, c10Blocks, c10Cells, c10Branch, '#FF63B6', 'branch-plot-c10');
})();

/* ---------- panel G ---------- */
(function () {
  const g = document.getElementById('panelG');
  const panels = [[groupHD, 2610, 2374, 2878, '#F8766D', true, 'hd'], [groupMO, 3133, 2895, 3398, '#00BA38', false, 'mo'], [groupSO, 3657, 3418, 3920, '#619CFF', false, 'so']];
  panels.forEach(p => {
    const fx = linear(p[1], 14.6), fy = linear(3105, -47.6);
    const fg = mk(g, 'g', {});
    
    
    axes(fg, {showX: true, showY: p[5], fx, fy, left: p[2], right: p[3], top: 2906, bottom: 3321, xTicks: compXTicks, yTicks: compYTicks, tick: 10, sw: 4, fs: 30, sx: .93, yLabelRight: 2359, xLabelBase: 3364});
    outline(fg, p[0], fx, fy, p[4], 8, 'group-cells');
    node(fg, fx(-4.1), fy(2.31), 19, 19, 30, .7);
  });
})();
</script>
</body>
</html>
